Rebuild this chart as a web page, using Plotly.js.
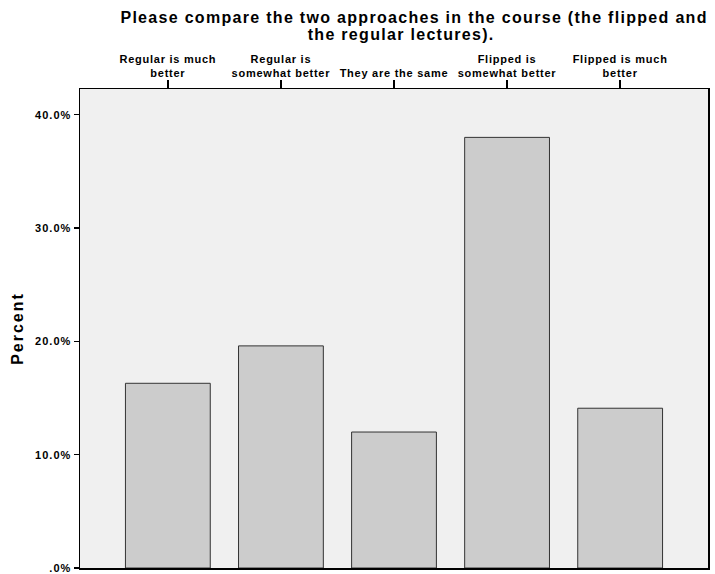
<!DOCTYPE html>
<html>
<head>
<meta charset="utf-8">
<script src="https://cdn.plot.ly/plotly-3.0.1.min.js"></script>
<style>
html,body{margin:0;padding:0;background:#fff;}
#chart{width:715px;height:574px;}
#chart .xtick text{letter-spacing:0.75px;}
#chart .ytick text{letter-spacing:1px;}
#chart .ytitle{letter-spacing:2px;}
#chart .annotation-text{letter-spacing:1.3px;}
</style>
</head>
<body>
<div id="chart"></div>
<script>
const categories = ["Regular is much<br>better", "Regular is<br>somewhat better", "They are the same", "Flipped is<br>somewhat better", "Flipped is much<br>better"];
const percentValues = [16.3, 19.6, 12.0, 38.0, 14.1];
const yTickValues = [0, 10, 20, 30, 40];
const yTickLabels = [".0%", "10.0%", "20.0%", "30.0%", "40.0%"];
const titleLines = ["Please compare the two approaches in the course (the flipped and", "the regular lectures)."];
const yTitle = "Percent";

const xIdx = categories.map((c, i) => i);

const trace = {
  type: "bar",
  x: xIdx,
  y: percentValues,
  width: 0.75,
  marker: {color: "#cccccc", line: {color: "#333333", width: 1}},
  hoverinfo: "skip"
};

const plotTop = 89, plotBottom = 568;
const pyToPaper = py => (plotBottom - py) / (plotBottom - plotTop);
const titleCenters = [[413.5, 17], [401, 34]];

const layout = {
  width: 715, height: 574,
  margin: {l: 80, r: 7, t: 89, b: 6},
  paper_bgcolor: "#ffffff",
  plot_bgcolor: "#f0f0f0",
  font: {family: "Liberation Sans, Arial, sans-serif", color: "#000"},
  showlegend: false,
  annotations: titleLines.map((t, i) => ({
    text: "<b>" + t + "</b>",
    xref: "paper", yref: "paper",
    x: (titleCenters[i][0] - 80) / (708 - 80),
    y: pyToPaper(titleCenters[i][1]),
    xanchor: "center", yanchor: "middle",
    showarrow: false,
    font: {size: 16}
  })),
  xaxis: {
    side: "top",
    range: [-0.777, 4.777],
    tickvals: xIdx,
    ticktext: categories.map(c => "<b>" + c + "</b>"),
    tickfont: {size: 11},
    ticks: "outside", ticklen: 8, tickwidth: 1.5, tickcolor: "#000",
    ticklabelstandoff: -2,
    showline: true, linecolor: "#000", linewidth: 1.5, mirror: true,
    showgrid: false, zeroline: false, fixedrange: true
  },
  yaxis: {
    range: [0, 42.27],
    tickvals: yTickValues,
    ticktext: yTickLabels.map(t => "<b>" + t + "</b>"),
    tickfont: {size: 11},
    ticks: "outside", ticklen: 5, tickwidth: 1.5, tickcolor: "#000",
    showline: true, linecolor: "#000", linewidth: 1.5, mirror: true,
    showgrid: false, zeroline: false, fixedrange: true,
    title: {text: "<b>" + yTitle + "</b>", font: {size: 16}, standoff: 12}
  }
};

Plotly.newPlot("chart", [trace], layout, {displayModeBar: false, staticPlot: true});
</script>
</body>
</html>
